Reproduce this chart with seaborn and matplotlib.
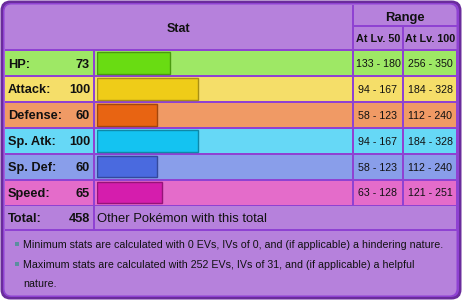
import matplotlib
matplotlib.use('Agg')
import matplotlib.pyplot as plt
from matplotlib.patches import Rectangle, FancyBboxPatch
import seaborn as sns

# data
stat_names = ['HP:', 'Attack:', 'Defense:', 'Sp. Atk:', 'Sp. Def:', 'Speed:']
base_stats = [73, 100, 60, 100, 60, 65]
range_lv50 = ['133 - 180', '94 - 167', '58 - 123', '94 - 167', '58 - 123', '63 - 128']
range_lv100 = ['256 - 350', '184 - 328', '112 - 240', '184 - 328', '112 - 240', '121 - 251']
total_label = 'Total:'
total_text = 'Other Pokémon with this total'
notes = ['Minimum stats are calculated with 0 EVs, IVs of 0, and (if applicable) a hindering nature.',
         'Maximum stats are calculated with 252 EVs, IVs of 31, and (if applicable) a helpful',
         'nature.']

# colours
row_bg = ['#9ee865', '#f5de69', '#f09a65', '#66d8f6', '#899eea', '#e46cca']
bar_fill = ['#69dc12', '#efcc18', '#e86412', '#14c3f1', '#4a6adf', '#d51dad']
bar_edge = ['#4a9a10', '#a88f14', '#a2460c', '#0e88a8', '#34499c', '#951479']
lavender = '#b681dc'
grid = '#8f42d2'
outer = '#6a2c9c'
ink = '#111111'

sns.set_theme(style='white')
plt.rcParams['font.family'] = ['Liberation Sans', 'DejaVu Sans']

W, H = 462, 300
fig = plt.figure(figsize=(W / 100, H / 100), dpi=100)
fig.patch.set_facecolor('white')
ax = fig.add_axes([0, 0, 1, 1])
ax.set_xlim(0, W)
ax.set_ylim(H, 0)
ax.axis('off')


def box(x0, y0, x1, y1, color, r=None):
    if r is None:
        p = Rectangle((x0, y0), x1 - x0, y1 - y0, facecolor=color, edgecolor='none', lw=0)
    else:
        p = FancyBboxPatch((x0, y0), x1 - x0, y1 - y0,
                           boxstyle=f'round,pad=0,rounding_size={r}',
                           facecolor=color, edgecolor='none', lw=0)
    ax.add_patch(p)


def label(x, y, s, size, bold=False, ha='center'):
    ax.text(x, y, s, ha=ha, va='center_baseline', fontsize=size,
            fontweight='bold' if bold else 'normal', color=ink)


# frame
box(0.5, 0.5, 461.5, 299.5, outer, r=10)
box(3, 3, 459, 297, grid, r=8)
box(4.5, 4.5, 456.5, 295.5, lavender, r=7)

cols = [(5, 93), (95, 352), (354, 402), (404, 456)]
pitch = 25.9
top0 = 51

# header lines
box(352, 4.5, 354, 49, grid)
box(354, 25, 456.5, 27, grid)
box(402, 27, 404, 49, grid)
box(4.5, 49, 456.5, 231, grid)

label(178.5, 27, 'Stat', 9, bold=True)
label(405, 16, 'Range', 9.4, bold=True)
label(378, 38.5, 'At Lv. 50', 7.8, bold=True)
label(430, 38.5, 'At Lv. 100', 7.8, bold=True)

for i, name in enumerate(stat_names):
    t = top0 + pitch * i
    for x0, x1 in cols:
        box(x0, t, x1, t + 24, row_bg[i])
    cy = t + 12
    label(8, cy, name, 9.2, bold=True, ha='left')
    label(90, cy, str(base_stats[i]), 9.2, bold=True, ha='right')
    label(378, cy, range_lv50[i], 7.7)
    label(430, cy, range_lv100[i], 7.7)

# total row
t = top0 + pitch * 6
box(5, t, 93, 229, lavender)
box(95, t, 456, 229, lavender)
cy = (t + 229) / 2
label(8, cy, total_label, 9.2, bold=True, ha='left')
label(90, cy, str(sum(base_stats)), 9.2, bold=True, ha='right')
label(97, cy, total_text, 9.4, ha='left')

# footer notes
note_y = [244, 264, 283]
for k, line in enumerate(notes):
    if k < 2:
        box(14.5, note_y[k] - 2.3, 19, note_y[k] + 2.2, '#5b8ea0')
    label(23, note_y[k], line, 7.7, ha='left')

# bars drawn with seaborn in an axes over the bar column
c_top = top0 + 12 - pitch / 2
c_bot = top0 + 12 + pitch * 5 + pitch / 2
x_left = 96.5
scale = 1.01
bax = fig.add_axes([x_left / W, 1 - c_bot / H, (352 - x_left) / W, (c_bot - c_top) / H])
sns.barplot(x=base_stats, y=stat_names, hue=stat_names, palette=bar_fill, orient='h',
            width=0.834, saturation=1, legend=False, ax=bax)
for p, ec in zip(bax.patches, bar_edge):
    p.set_edgecolor(ec)
    p.set_linewidth(1)
bax.set_xlim(0, (352 - x_left) / scale)
bax.set_ylim(5.5, -0.5)
bax.patch.set_alpha(0)
bax.axis('off')

fig.savefig('out.png', dpi=100)
